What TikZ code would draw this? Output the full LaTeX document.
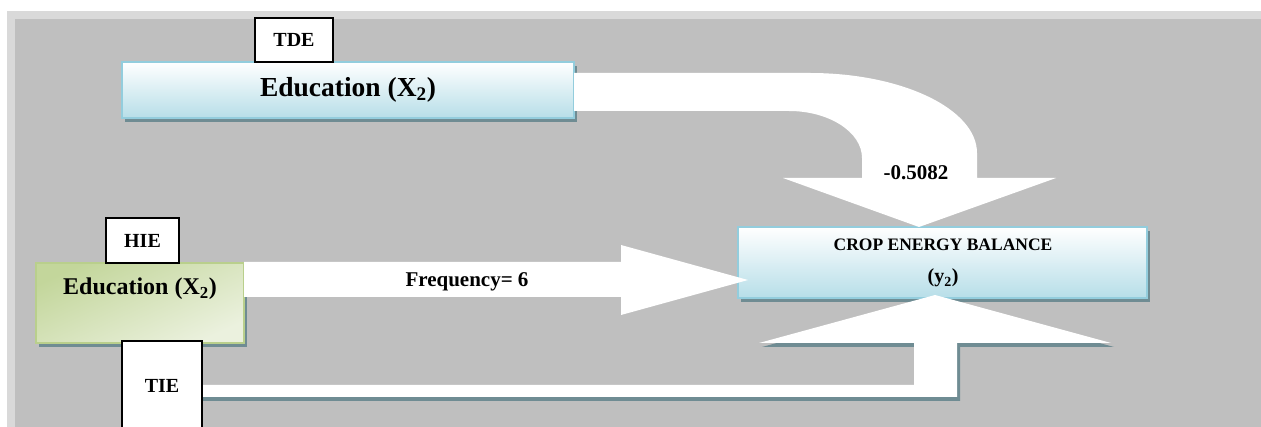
\documentclass[tikz,border=0pt]{standalone}
\usepackage{fontspec}
\setmainfont{Liberation Serif}
\usetikzlibrary{shadows}
\definecolor{bglight}{HTML}{D9D9D9}
\definecolor{bgdark}{HTML}{BFBFBF}
\definecolor{bluebot}{HTML}{B7DEE8}
\definecolor{blueedge}{HTML}{93CDDD}
\definecolor{shadowc}{HTML}{6F8C93}
\definecolor{greenA}{HTML}{C3D69B}
\definecolor{greenB}{HTML}{EBF1DE}
\definecolor{greenedge}{HTML}{B9CF8C}
\begin{document}
\begin{tikzpicture}[x=1pt,y=-1pt,
  boxshadow/.style={drop shadow={shadow xshift=3pt, shadow yshift=-4pt, fill=shadowc, opacity=1}},
  bluebox/.style={draw=blueedge, line width=1.3pt, top color=white, bottom color=bluebot, inner sep=0pt, boxshadow},
  greenbox/.style={draw=greenedge, line width=1.3pt, top color=greenA, bottom color=greenB, shading angle=25, inner sep=0pt, boxshadow},
  tagbox/.style={draw=black, line width=1.3pt, fill=white, inner sep=0pt, font=\bfseries\fontsize{20}{22}\selectfont},
  lab/.style={inner sep=0pt, font=\bfseries\fontsize{21}{23}\selectfont},
  blockarrow/.style={fill=white}
]
\useasboundingbox (0,0) rectangle (1261,427);
\clip (0,0) rectangle (1261,427);
% background
\fill[white] (0,0) rectangle (1261,427);
\fill[bglight] (7,11) rectangle (1261,427);
\fill[bgdark] (15,19) rectangle (1261,427);

% boxes
\node[bluebox, minimum width=452pt, minimum height=56pt,
      font=\bfseries\fontsize{27.5}{30}\selectfont] (edtop) at (348,90) {Education (X\textsubscript{2})};
\node[bluebox, minimum width=409pt, minimum height=71pt] (crop) at (942.5,262.5) {};
\node[greenbox, minimum width=208pt, minimum height=80pt] (hied) at (140,303) {};

% curved arrow from top box
\fill[blockarrow] (574,73) -- (810,73) .. controls (902,73) and (977,109) .. (977,153)
   -- (977,178) -- (1056,178) -- (919,227) -- (783,178) -- (862,178) -- (862,158)
   .. controls (862,132) and (829,111) .. (789,111) -- (574,111) -- cycle;

% straight arrow from green box
\fill[blockarrow] (244,262) -- (621,262) -- (621,245) -- (748,280) -- (621,315)
   -- (621,297) -- (244,297) -- cycle;

% bent arrow from TIE (with shadow)
\begin{scope}[shift={(3,4)}]
\fill[shadowc] (199,385) -- (914,385) -- (914,343) -- (759,343) -- (935,295) -- (1111,343)
   -- (957,343) -- (957,397) -- (199,397) -- cycle;
\end{scope}
\fill[blockarrow] (202,385) -- (914,385) -- (914,343) -- (759,343) -- (935,295) -- (1111,343)
   -- (957,343) -- (957,397) -- (202,397) -- cycle;

% texts in boxes
\node[inner sep=0pt, anchor=base, font=\bfseries\fontsize{17.5}{20}\selectfont] (croptxt) at (943,251) {CROP ENERGY BALANCE};
\node[inner sep=0pt, anchor=base, font=\bfseries\fontsize{20}{22}\selectfont] (ytxt) at (943,283) {(y\textsubscript{2})};
\node[inner sep=0pt, anchor=base, font=\bfseries\fontsize{24}{26}\selectfont] (hiedtxt) at (140,295) {Education (X\textsubscript{2})};

% arrow labels
\node[lab, anchor=base] (coef) at (916,180) {-0.5082};
\node[lab, anchor=base] (freq) at (467,287) {Frequency= 6};

% tags
\node[tagbox, minimum width=78pt, minimum height=44pt] (tde) at (294,40) {TDE};
\node[tagbox, minimum width=73pt, minimum height=45pt] (hie) at (142.5,240.5) {HIE};
\node[tagbox, minimum width=80pt, minimum height=90pt] (tie) at (162,386) {TIE};
\end{tikzpicture}
\end{document}
